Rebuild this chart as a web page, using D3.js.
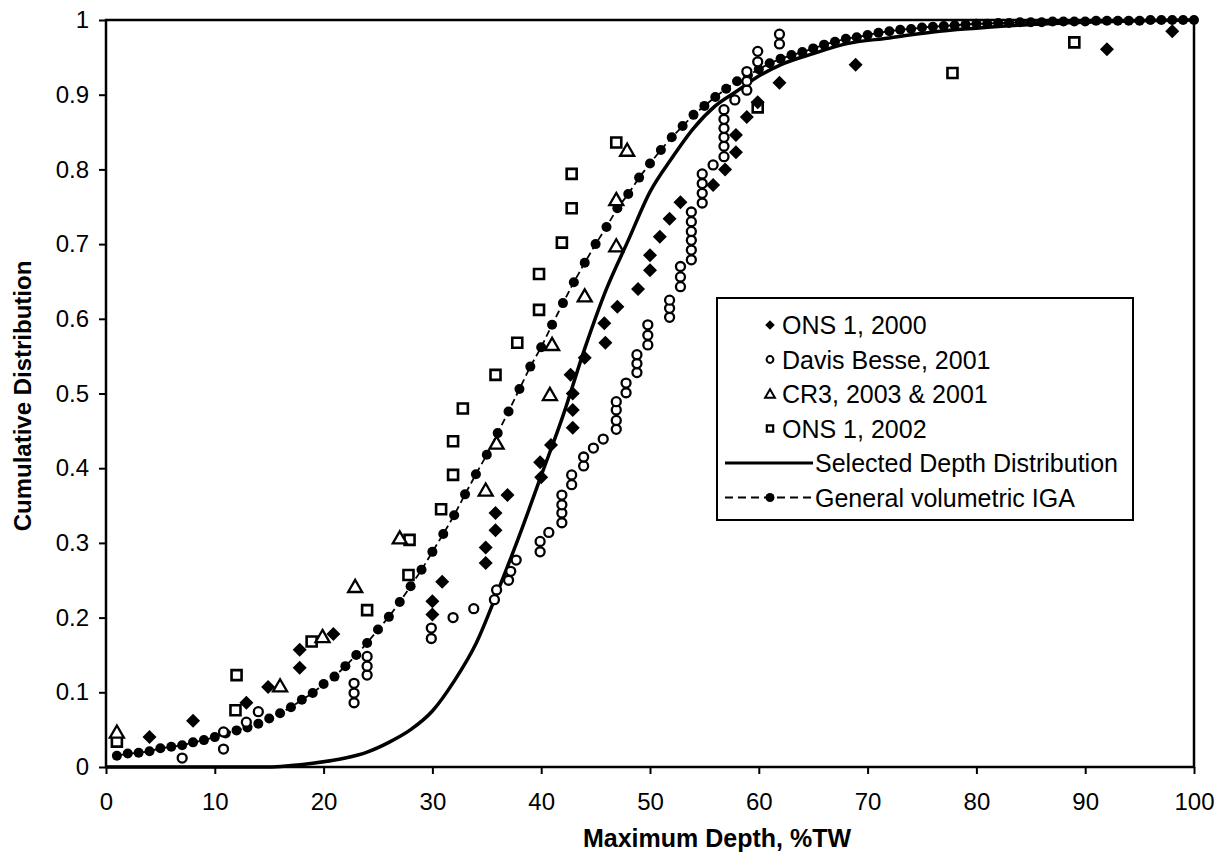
<!DOCTYPE html>
<html lang="en">
<head>
<meta charset="UTF-8">
<title>Cumulative Distribution</title>
<script src="https://cdnjs.cloudflare.com/ajax/libs/d3/7.8.5/d3.min.js"></script>
<style>
    body { margin: 0; background: #fff; }
    text { font-family: "Liberation Sans", Arial, sans-serif; fill: #000; }
</style>
</head>
<body>
<svg id="chart" width="1225" height="868"></svg>
<script>
    // data (x = %TW, y = cumulative fraction)
    var ons2000 = [[4.0,0.040],[8.0,0.062],[12.9,0.086],[14.9,0.107],[17.8,0.133],[17.8,0.157],[20.9,0.178],
        [30.0,0.204],[30.0,0.222],[30.9,0.248],[34.9,0.273],[34.9,0.294],[35.8,0.317],[35.8,0.340],[36.9,0.364],
        [40.0,0.388],[39.9,0.408],[40.9,0.431],[42.9,0.454],[42.9,0.478],[42.9,0.500],[42.7,0.525],[44.0,0.548],
        [45.9,0.568],[45.8,0.594],[47.0,0.616],[48.9,0.640],[50.0,0.665],[50.0,0.685],[50.9,0.710],[51.8,0.734],
        [52.8,0.756],[55.8,0.779],[56.9,0.800],[57.9,0.823],[57.9,0.846],[58.9,0.870],[59.9,0.890],[61.9,0.916],
        [68.9,0.940],[92.0,0.961],[98.0,0.985]];

    var davisBesse = [[7.0,0.012],[10.8,0.024],[10.8,0.047],[12.9,0.060],[14.0,0.074],[22.8,0.086],[22.8,0.099],
        [22.8,0.112],[24.0,0.123],[24.0,0.135],[24.0,0.148],[29.9,0.172],[29.9,0.186],[31.9,0.200],[33.8,0.212],
        [35.7,0.224],[35.9,0.237],[37.0,0.250],[37.2,0.262],[37.7,0.277],[39.9,0.288],[39.9,0.302],[40.7,0.314],
        [41.9,0.327],[41.9,0.340],[41.9,0.351],[41.9,0.364],[42.8,0.378],[42.8,0.391],[43.9,0.403],[43.9,0.415],
        [44.8,0.427],[45.7,0.439],[46.9,0.452],[46.9,0.464],[46.9,0.478],[46.9,0.489],[47.8,0.501],[47.8,0.514],
        [48.8,0.528],[48.8,0.540],[48.8,0.552],[49.8,0.565],[49.8,0.578],[49.8,0.592],[51.8,0.602],[51.8,0.614],
        [51.8,0.625],[52.8,0.643],[52.8,0.656],[52.8,0.670],[53.8,0.679],[53.8,0.692],[53.8,0.705],[53.8,0.717],
        [53.8,0.730],[53.8,0.743],[54.8,0.755],[54.8,0.768],[54.8,0.781],[54.8,0.794],[55.8,0.806],[56.8,0.817],
        [56.8,0.831],[56.8,0.843],[56.8,0.855],[56.8,0.867],[56.8,0.880],[57.8,0.893],[58.9,0.906],[58.9,0.918],
        [58.9,0.931],[59.9,0.944],[59.9,0.958],[61.9,0.968],[61.9,0.981]];

    var cr3 = [[1.0,0.046],[16.0,0.108],[19.9,0.174],[22.9,0.241],[27.0,0.306],[34.9,0.370],[35.9,0.433],
        [40.8,0.498],[41.0,0.565],[44.0,0.630],[46.9,0.697],[46.9,0.759],[47.9,0.825]];

    var ons2002 = [[1.0,0.034],[11.9,0.076],[12.0,0.123],[18.9,0.168],[24.0,0.210],[27.8,0.257],[27.9,0.304],
        [30.8,0.345],[31.9,0.391],[31.9,0.436],[32.8,0.480],[35.8,0.525],[37.8,0.568],[39.8,0.612],[39.8,0.660],
        [41.9,0.702],[42.8,0.748],[42.8,0.794],[46.9,0.836],[59.9,0.883],[77.8,0.929],[89.0,0.970]];

    var selectedX = [0, 5, 10, 15, 17, 19, 22, 24, 26, 28, 30, 32, 34, 36, 38, 40, 42, 44, 46, 48, 50, 52, 54,
        56, 58, 60, 62, 65, 68, 72, 76, 80, 85, 90, 95, 100];
    var selectedY = [0, 0, 0, 0, 0.002, 0.005, 0.012, 0.02, 0.033, 0.05, 0.075, 0.115, 0.165, 0.235, 0.31,
        0.39, 0.47, 0.56, 0.64, 0.705, 0.77, 0.815, 0.855, 0.885, 0.905, 0.925, 0.94, 0.955, 0.968, 0.976,
        0.984, 0.989, 0.994, 0.997, 0.999, 1];

    var igaX = [1,2,3,4,5,6,7,8,9,10,11,12,13,14,15,16,17,18,19,20,21,22,23,24,25,26,27,28,29,30,
        31,32,33,34,35,36,37,38,39,40,41,42,43,44,45,46,47,48,49,50,51,52,53,54,55,56,57,58,59,60,
        61,62,63,64,65,66,67,68,69,70,71,72,73,74,75,76,77,78,79,80,81,82,83,84,85,86,87,88,89,90,
        91,92,93,94,95,96,97,98,99,100];
    var igaY = [0.015,0.018,0.019,0.021,0.025,0.027,0.029,0.033,0.036,0.040,0.045,0.049,0.053,0.058,0.065,
        0.072,0.080,0.090,0.099,0.111,0.121,0.135,0.150,0.166,0.184,0.201,0.221,0.242,0.264,0.288,
        0.312,0.337,0.365,0.392,0.418,0.447,0.476,0.506,0.536,0.562,0.592,0.621,0.649,0.675,0.700,
        0.723,0.748,0.767,0.789,0.808,0.826,0.843,0.858,0.873,0.885,0.897,0.908,0.918,0.926,0.934,
        0.942,0.948,0.953,0.957,0.962,0.967,0.971,0.975,0.977,0.980,0.983,0.985,0.987,0.988,0.990,
        0.991,0.992,0.993,0.994,0.995,0.995,0.996,0.996,0.997,0.997,0.997,0.998,0.998,0.998,0.998,
        0.999,0.999,0.999,0.999,0.999,1.0,1.0,1.0,1.0,1.0];

    var xTicks = [0, 10, 20, 30, 40, 50, 60, 70, 80, 90, 100];
    var yTicks = [0, 0.1, 0.2, 0.3, 0.4, 0.5, 0.6, 0.7, 0.8, 0.9, 1];
    var legendLabels = ["ONS 1, 2000", "Davis Besse, 2001", "CR3, 2003 & 2001", "ONS 1, 2002",
        "Selected Depth Distribution", "General volumetric IGA"];

    var svg = d3.select("#chart");
    var plotLeft = 106, plotRight = 1194, plotTop = 20, plotBottom = 767;

    var x = d3.scaleLinear().domain([0, 100]).range([plotLeft, plotRight]);
    var y = d3.scaleLinear().domain([0, 1]).range([plotBottom, plotTop]);

    // axes
    var xAxis = svg.append("g")
        .attr("transform", "translate(0," + plotBottom + ")")
        .call(d3.axisBottom(x).tickValues(xTicks).tickSize(7).tickPadding(19).tickFormat(d3.format("d")));
    var yAxis = svg.append("g")
        .attr("transform", "translate(" + plotLeft + ",0)")
        .call(d3.axisLeft(y).tickValues(yTicks).tickSize(7).tickPadding(10).tickFormat(function(d) { return d; }));
    [xAxis, yAxis].forEach(function(a) {
        a.select(".domain").remove();
        a.selectAll(".tick line").attr("stroke", "#000").attr("stroke-width", 2);
        a.selectAll(".tick text").style("font-size", "24px").attr("fill", "#000");
    });

    // plot frame
    svg.append("rect")
        .attr("x", plotLeft).attr("y", plotTop)
        .attr("width", plotRight - plotLeft).attr("height", plotBottom - plotTop)
        .attr("fill", "none").attr("stroke", "#000").attr("stroke-width", 2.5);

    // selected depth distribution
    var selected = selectedX.map(function(d, i) { return [d, selectedY[i]]; });
    svg.append("path")
        .datum(selected)
        .attr("fill", "none").attr("stroke", "#000").attr("stroke-width", 3.5)
        .attr("d", d3.line().x(function(d) { return x(d[0]); }).y(function(d) { return y(d[1]); })
            .curve(d3.curveMonotoneX));

    // general volumetric IGA
    var iga = igaX.map(function(d, i) { return [d, igaY[i]]; });
    svg.append("path")
        .datum(iga)
        .attr("fill", "none").attr("stroke", "#000").attr("stroke-width", 1.8)
        .attr("stroke-dasharray", "7,4")
        .attr("d", d3.line().x(function(d) { return x(d[0]); }).y(function(d) { return y(d[1]); }));
    svg.append("g").selectAll("circle")
        .data(iga).enter().append("circle")
        .attr("cx", function(d) { return x(d[0]); })
        .attr("cy", function(d) { return y(d[1]); })
        .attr("r", 5).attr("fill", "#000");

    var sq = d3.symbol().type(d3.symbolSquare);
    var tri = d3.symbol().type(d3.symbolTriangle);

    // ONS 1, 2002 squares
    svg.append("g").selectAll("path")
        .data(ons2002).enter().append("path")
        .attr("d", sq.size(100)())
        .attr("transform", function(d) { return "translate(" + x(d[0]) + "," + y(d[1]) + ")"; })
        .attr("fill", "#fff").attr("stroke", "#000").attr("stroke-width", 2.6);

    // CR3 triangles
    svg.append("g").selectAll("path")
        .data(cr3).enter().append("path")
        .attr("d", tri.size(85)())
        .attr("transform", function(d) { return "translate(" + x(d[0]) + "," + (y(d[1]) + 1) + ")"; })
        .attr("fill", "#fff").attr("stroke", "#000").attr("stroke-width", 2.3);

    // Davis Besse circles
    svg.append("g").selectAll("circle")
        .data(davisBesse).enter().append("circle")
        .attr("cx", function(d) { return x(d[0]); })
        .attr("cy", function(d) { return y(d[1]); })
        .attr("r", 4.5)
        .attr("fill", "#fff").attr("stroke", "#000").attr("stroke-width", 2.3);

    // ONS 1, 2000 diamonds
    svg.append("g").selectAll("path")
        .data(ons2000).enter().append("path")
        .attr("d", sq.size(98)())
        .attr("transform", function(d) { return "translate(" + x(d[0]) + "," + y(d[1]) + ") rotate(45)"; })
        .attr("fill", "#000");

    // legend
    var lg = svg.append("g");
    lg.append("rect")
        .attr("x", 717).attr("y", 298).attr("width", 416).attr("height", 222)
        .attr("fill", "#fff").attr("stroke", "#000").attr("stroke-width", 2);
    var rowY = function(i) { return 325 + i * 34.5; };
    var mx = 770;
    lg.append("path").attr("d", sq.size(45)())
        .attr("transform", "translate(" + mx + "," + rowY(0) + ") rotate(45)").attr("fill", "#000");
    lg.append("circle").attr("cx", mx).attr("cy", rowY(1)).attr("r", 3.4)
        .attr("fill", "#fff").attr("stroke", "#000").attr("stroke-width", 2);
    lg.append("path").attr("d", tri.size(42)())
        .attr("transform", "translate(" + mx + "," + (rowY(2) + 1) + ")")
        .attr("fill", "#fff").attr("stroke", "#000").attr("stroke-width", 2);
    lg.append("path").attr("d", sq.size(40)())
        .attr("transform", "translate(" + mx + "," + rowY(3) + ")")
        .attr("fill", "#fff").attr("stroke", "#000").attr("stroke-width", 2.2);
    lg.append("line").attr("x1", 725).attr("x2", 813).attr("y1", rowY(4)).attr("y2", rowY(4))
        .attr("stroke", "#000").attr("stroke-width", 3);
    lg.append("line").attr("x1", 725).attr("x2", 813).attr("y1", rowY(5)).attr("y2", rowY(5))
        .attr("stroke", "#000").attr("stroke-width", 1.8).attr("stroke-dasharray", "8,5");
    lg.append("circle").attr("cx", mx).attr("cy", rowY(5)).attr("r", 4.5).attr("fill", "#000");
    lg.selectAll("text.lab")
        .data(legendLabels).enter().append("text")
        .attr("class", "lab")
        .attr("x", function(d, i) { return i < 4 ? 782 : 815; })
        .attr("y", function(d, i) { return rowY(i); })
        .attr("dy", "0.36em")
        .style("font-size", "25px")
        .text(function(d) { return d; });

    // axis titles
    svg.append("text")
        .attr("x", 717).attr("y", 847)
        .attr("text-anchor", "middle")
        .style("font-size", "25px").style("font-weight", "bold")
        .text("Maximum Depth, %TW");
    svg.append("text")
        .attr("transform", "translate(31,396) rotate(-90)")
        .attr("text-anchor", "middle")
        .style("font-size", "24px").style("font-weight", "bold")
        .text("Cumulative Distribution");
</script>
</body>
</html>
